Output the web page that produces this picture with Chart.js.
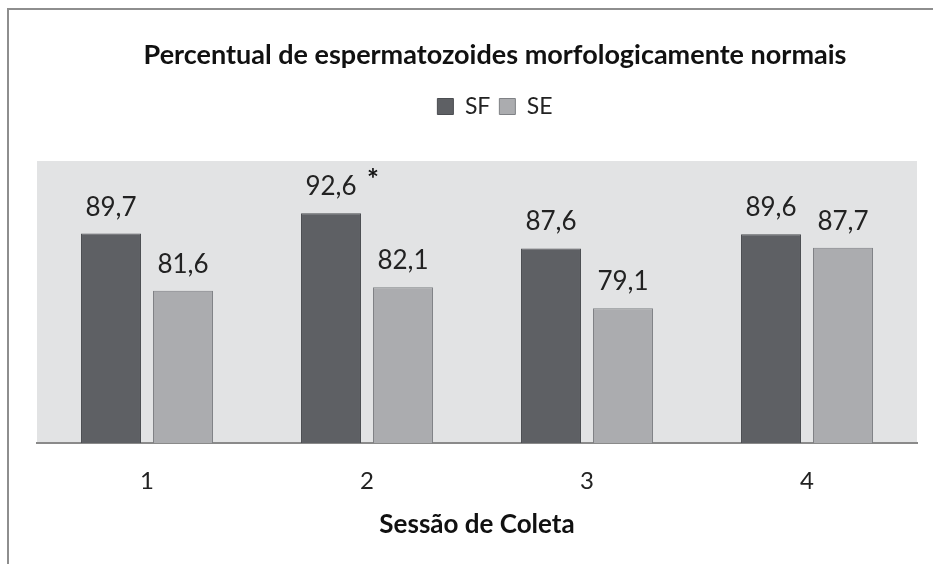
<!DOCTYPE html>
<html>
<head>
<meta charset="utf-8">
<script src="https://cdn.jsdelivr.net/npm/chart.js@4.4.1/dist/chart.umd.min.js"></script>
<style>
  html, body { margin: 0; padding: 0; background: #fff; overflow: hidden; }
  #wrap { position: absolute; left: 0; top: 0; width: 970px; height: 564px; }
  #frame { position: absolute; left: 7px; top: 8px; width: 1000px; height: 600px;
           border-left: 2px solid #8e8e8e; border-top: 2px solid #8e8e8e; pointer-events: none; }
</style>
</head>
<body>
<div id="wrap"><canvas id="chart" width="970" height="564"></canvas></div>
<div id="frame"></div>
<script>
const sessions = ["1", "2", "3", "4"];
const sfValues = [89.7, 92.6, 87.6, 89.6];
const seValues = [81.6, 82.1, 79.1, 87.7];
const sfMarks = ["", "*", "", ""];
const seMarks = ["", "", "", ""];

const fmt = (v) => v.toFixed(1).replace(".", ",");

// grey plot background
const plotBg = {
  id: "plotBg",
  beforeDraw(chart) {
    const { ctx, chartArea: a } = chart;
    ctx.save();
    ctx.fillStyle = "#e2e3e4";
    ctx.fillRect(a.left, a.top, a.right - a.left, a.bottom - a.top);
    ctx.restore();
  },
};

// value labels above the bars, plus significance marks
const valueLabels = {
  id: "valueLabels",
  afterDatasetsDraw(chart) {
    const ctx = chart.ctx;
    const marks = [sfMarks, seMarks];
    ctx.save();
    ctx.textAlign = "center";
    ctx.textBaseline = "alphabetic";
    chart.data.datasets.forEach((ds, i) => {
      chart.getDatasetMeta(i).data.forEach((bar, j) => {
        ctx.fillStyle = "#222";
        ctx.font = "26px Lato";
        ctx.fillText(fmt(ds.data[j]), bar.x, bar.y - 18);
        if (marks[i][j]) {
          ctx.font = "bold 28px Lato";
          ctx.fillStyle = "#111";
          ctx.fillText(marks[i][j], bar.x + 42, bar.y - 24);
        }
      });
    });
    ctx.restore();
  },
};

// extra space under the legend
const legendGap = {
  id: "legendGap",
  beforeInit(chart) {
    const fit = chart.legend.fit;
    chart.legend.fit = function () {
      fit.bind(chart.legend)();
      this.height += 33;
    };
  },
};

new Chart(document.getElementById("chart"), {
  type: "bar",
  data: {
    labels: sessions,
    datasets: [
      {
        label: "SF",
        data: sfValues,
        backgroundColor: "#5e6064",
        borderColor: "#4b4d51",
        borderWidth: 1,
        categoryPercentage: 0.6545,
        barPercentage: 0.833,
      },
      {
        label: "SE",
        data: seValues,
        backgroundColor: "#abacaf",
        borderColor: "#7f8185",
        borderWidth: 1,
        categoryPercentage: 0.6545,
        barPercentage: 0.833,
      },
    ],
  },
  options: {
    responsive: false,
    animation: false,
    layout: { padding: { left: 37, right: 17, top: 0, bottom: 20 } },
    plugins: {
      title: {
        display: true,
        text: "Percentual de espermatozoides morfologicamente normais",
        color: "#111",
        font: { family: "Lato", size: 27, weight: "bold" },
        padding: { top: 39, bottom: 14.6 },
      },
      legend: {
        labels: {
          color: "#222",
          font: { family: "Lato", size: 23 },
          boxWidth: 16,
          boxHeight: 16,
          padding: 9,
        },
      },
      tooltip: { enabled: false },
    },
    scales: {
      x: {
        grid: { display: false, drawTicks: false },
        border: { display: true, color: "#8a8a8a", width: 2 },
        ticks: { color: "#222", font: { family: "Lato", size: 24 }, padding: 24 },
        title: {
          display: true,
          text: "Sessão de Coleta",
          color: "#111",
          font: { family: "Lato", size: 26, weight: "bold" },
          padding: { top: 0, bottom: 4 },
        },
        afterFit(scale) { scale.height = 101; },
      },
      y: {
        position: "right",
        min: 60,
        max: 100,
        grid: { display: false, drawTicks: false },
        border: { display: false },
        ticks: { display: false },
        afterFit(scale) { scale.width = 36; },
      },
    },
  },
  plugins: [plotBg, valueLabels, legendGap],
});
</script>
</body>
</html>
